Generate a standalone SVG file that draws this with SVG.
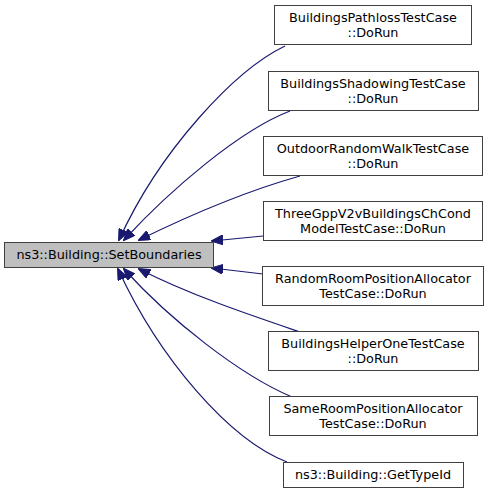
<svg xmlns="http://www.w3.org/2000/svg" width="491" height="495" viewBox="0 0 491 495">
<style>
.node rect{fill:#ffffff;stroke:#404040;stroke-width:1}
.node.main rect{fill:#bfbfbf}
.node text{font-family:"DejaVu Sans",sans-serif;font-size:12.8px;fill:#000;text-anchor:middle}
.edges path{fill:none;stroke:#191970;stroke-width:1.2}
</style>
<defs>
<marker id="ah" viewBox="0 0 12 10" refX="11" refY="5" markerWidth="12" markerHeight="10" markerUnits="userSpaceOnUse" orient="auto">
<path d="M0,0 L12,5 L0,10 Z" fill="#191970" stroke="#191970"/>
</marker>
</defs>
<rect width="491" height="495" fill="#ffffff"/>
<g class="edges">
<path d="M285,46 C235,70 160,150 119,240" marker-end="url(#ah)"/>
<path d="M290,111 C240,130 170,190 124,240" marker-end="url(#ah)"/>
<path d="M300,176 C250,190 190,215 139,240" marker-end="url(#ah)"/>
<path d="M263,236 L212,241" marker-end="url(#ah)"/>
<path d="M263,274 L212,268" marker-end="url(#ah)"/>
<path d="M300,332 C250,315 190,295 139,269" marker-end="url(#ah)"/>
<path d="M292,397 C240,375 170,320 124,269" marker-end="url(#ah)"/>
<path d="M287,462 C230,440 160,360 118,269" marker-end="url(#ah)"/>
</g>
<g id="main" class="node main">
<rect x="4.5" y="242.5" width="209" height="25"/>
<text x="109" y="259">ns3::Building::SetBoundaries</text>
</g>
<g id="n1" class="node">
<rect x="274.5" y="5.5" width="197" height="39"/>
<text x="373" y="22">BuildingsPathlossTestCase</text>
<text x="373" y="37">::DoRun</text>
</g>
<g id="n2" class="node">
<rect x="268.5" y="71.5" width="210" height="39"/>
<text x="373" y="88">BuildingsShadowingTestCase</text>
<text x="373" y="103">::DoRun</text>
</g>
<g id="n3" class="node">
<rect x="263.5" y="136.5" width="219" height="39"/>
<text x="373" y="153">OutdoorRandomWalkTestCase</text>
<text x="373" y="168">::DoRun</text>
</g>
<g id="n4" class="node">
<rect x="263.5" y="201.5" width="219" height="39"/>
<text x="373" y="218">ThreeGppV2vBuildingsChCond</text>
<text x="373" y="233">ModelTestCase::DoRun</text>
</g>
<g id="n5" class="node">
<rect x="262.5" y="266.5" width="221" height="39"/>
<text x="373" y="283">RandomRoomPositionAllocator</text>
<text x="373" y="298">TestCase::DoRun</text>
</g>
<g id="n6" class="node">
<rect x="268.5" y="331.5" width="210" height="39"/>
<text x="373" y="348">BuildingsHelperOneTestCase</text>
<text x="373" y="363">::DoRun</text>
</g>
<g id="n7" class="node">
<rect x="269.5" y="396.5" width="208" height="39"/>
<text x="373" y="413">SameRoomPositionAllocator</text>
<text x="373" y="428">TestCase::DoRun</text>
</g>
<g id="n8" class="node">
<rect x="283.5" y="462.5" width="180" height="25"/>
<text x="373" y="479">ns3::Building::GetTypeId</text>
</g>
</svg>
